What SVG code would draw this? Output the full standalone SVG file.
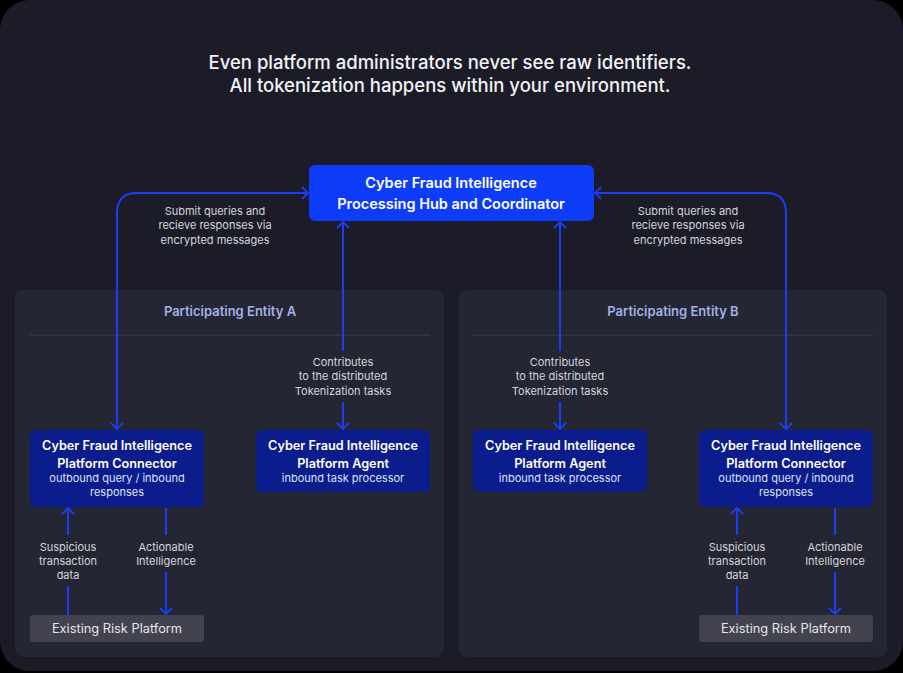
<svg xmlns="http://www.w3.org/2000/svg" width="903" height="673" viewBox="0 0 903 673">
<style>
.t{font-family:Inter,"Noto Sans",sans-serif}
.title{font-size:18.5px;font-weight:500;fill:#f2f2f5;text-anchor:middle}
.lbl{font-size:11px;fill:#d4d5dc;text-anchor:middle}
.ent{font-size:13px;font-weight:600;fill:#a6b0e6;text-anchor:middle}
.nt{font-size:12.7px;font-weight:600;fill:#ffffff;text-anchor:middle}
.ns{font-size:11px;fill:#dfe3ff;text-anchor:middle}
.ht{font-size:14.5px;font-weight:600;fill:#ffffff;text-anchor:middle}
.rt{font-size:12.8px;fill:#e6e6ea;text-anchor:middle}
.ln{fill:none;stroke:#1c3df5;stroke-width:2}
.panel{fill:#242633}
.node{fill:#0b1c8c}
.risk{fill:#42434f}
</style>
<defs>
<marker id="ah" viewBox="-8 -7 10 14" markerWidth="10" markerHeight="14" refX="0" refY="0" orient="auto-start-reverse" markerUnits="userSpaceOnUse">
<path d="M-6,-6 L0,0 L-6,6" fill="none" stroke="#1c3df5" stroke-width="1.8"/>
</marker>
</defs>
<rect x="0" y="0" width="903" height="673" fill="#000"/>
<rect x="0" y="0" width="903" height="671" rx="30" fill="#1b1c28"/>
<g id="title">
<text class="t title" x="450" y="69">Even platform administrators never see raw identifiers.</text>
<text class="t title" x="450" y="92">All tokenization happens within your environment.</text>
</g>
<g id="entityA">
<rect class="panel" x="15" y="290" width="429" height="367" rx="8"/>
<text class="t ent" x="230" y="316">Participating Entity A</text>
<line x1="30" y1="335" x2="430" y2="335" stroke="#3b3e4c" stroke-width="1"/>
</g>
<g id="entityB">
<rect class="panel" x="459" y="290" width="428" height="367" rx="8"/>
<text class="t ent" x="673" y="316">Participating Entity B</text>
<line x1="473" y1="335" x2="873" y2="335" stroke="#3b3e4c" stroke-width="1"/>
</g>
<g id="connectors">
<path class="ln" d="M308,193 L137,193 Q117,193 117,213 L117,429" marker-start="url(#ah)" marker-end="url(#ah)"/>
<path class="ln" d="M595,193 L766,193 Q786,193 786,213 L786,429" marker-start="url(#ah)" marker-end="url(#ah)"/>
<line class="ln" x1="343" y1="351" x2="343" y2="222" marker-end="url(#ah)"/>
<line class="ln" x1="343" y1="402" x2="343" y2="429" marker-end="url(#ah)"/>
<line class="ln" x1="560" y1="351" x2="560" y2="222" marker-end="url(#ah)"/>
<line class="ln" x1="560" y1="402" x2="560" y2="429" marker-end="url(#ah)"/>
<line class="ln" x1="68" y1="535" x2="68" y2="508" marker-end="url(#ah)"/>
<line class="ln" x1="68" y1="586" x2="68" y2="615"/>
<line class="ln" x1="166" y1="508" x2="166" y2="535"/>
<line class="ln" x1="166" y1="572" x2="166" y2="614" marker-end="url(#ah)"/>
<line class="ln" x1="737" y1="535" x2="737" y2="508" marker-end="url(#ah)"/>
<line class="ln" x1="737" y1="586" x2="737" y2="615"/>
<line class="ln" x1="835" y1="508" x2="835" y2="535"/>
<line class="ln" x1="835" y1="572" x2="835" y2="614" marker-end="url(#ah)"/>
<text class="t lbl" x="215" y="215">Submit queries and</text>
<text class="t lbl" x="215" y="229">recieve responses via</text>
<text class="t lbl" x="215" y="244">encrypted messages</text>
<text class="t lbl" x="688" y="215">Submit queries and</text>
<text class="t lbl" x="688" y="229">recieve responses via</text>
<text class="t lbl" x="688" y="244">encrypted messages</text>
<text class="t lbl" x="343" y="366">Contributes</text>
<text class="t lbl" x="343" y="380">to the distributed</text>
<text class="t lbl" x="343" y="395">Tokenization tasks</text>
<text class="t lbl" x="560" y="366">Contributes</text>
<text class="t lbl" x="560" y="380">to the distributed</text>
<text class="t lbl" x="560" y="395">Tokenization tasks</text>
<text class="t lbl" x="68" y="551">Suspicious</text>
<text class="t lbl" x="68" y="565">transaction</text>
<text class="t lbl" x="68" y="579">data</text>
<text class="t lbl" x="166" y="551">Actionable</text>
<text class="t lbl" x="166" y="565">Intelligence</text>
<text class="t lbl" x="737" y="551">Suspicious</text>
<text class="t lbl" x="737" y="565">transaction</text>
<text class="t lbl" x="737" y="579">data</text>
<text class="t lbl" x="835" y="551">Actionable</text>
<text class="t lbl" x="835" y="565">Intelligence</text>
</g>
<g id="hub">
<rect x="309" y="165" width="285" height="56" rx="6" fill="#0d3cfa"/>
<text class="t ht" x="451" y="188">Cyber Fraud Intelligence</text>
<text class="t ht" x="451" y="209">Processing Hub and Coordinator</text>
</g>
<g id="connectorA">
<rect class="node" x="30" y="430" width="174" height="77" rx="6"/>
<text class="t nt" x="117" y="450">Cyber Fraud Intelligence</text>
<text class="t nt" x="117" y="468">Platform Connector</text>
<text class="t ns" x="117" y="482">outbound query / inbound</text>
<text class="t ns" x="117" y="496">responses</text>
</g>
<g id="agentA">
<rect class="node" x="256" y="430" width="174" height="62" rx="6"/>
<text class="t nt" x="343" y="450">Cyber Fraud Intelligence</text>
<text class="t nt" x="343" y="468">Platform Agent</text>
<text class="t ns" x="343" y="482">inbound task processor</text>
</g>
<g id="agentB">
<rect class="node" x="473" y="430" width="174" height="62" rx="6"/>
<text class="t nt" x="560" y="450">Cyber Fraud Intelligence</text>
<text class="t nt" x="560" y="468">Platform Agent</text>
<text class="t ns" x="560" y="482">inbound task processor</text>
</g>
<g id="connectorB">
<rect class="node" x="699" y="430" width="174" height="77" rx="6"/>
<text class="t nt" x="786" y="450">Cyber Fraud Intelligence</text>
<text class="t nt" x="786" y="468">Platform Connector</text>
<text class="t ns" x="786" y="482">outbound query / inbound</text>
<text class="t ns" x="786" y="496">responses</text>
</g>
<g id="riskA">
<rect class="risk" x="30" y="615" width="174" height="27" rx="3"/>
<text class="t rt" x="117" y="633">Existing Risk Platform</text>
</g>
<g id="riskB">
<rect class="risk" x="699" y="615" width="174" height="27" rx="3"/>
<text class="t rt" x="786" y="633">Existing Risk Platform</text>
</g>
</svg>
